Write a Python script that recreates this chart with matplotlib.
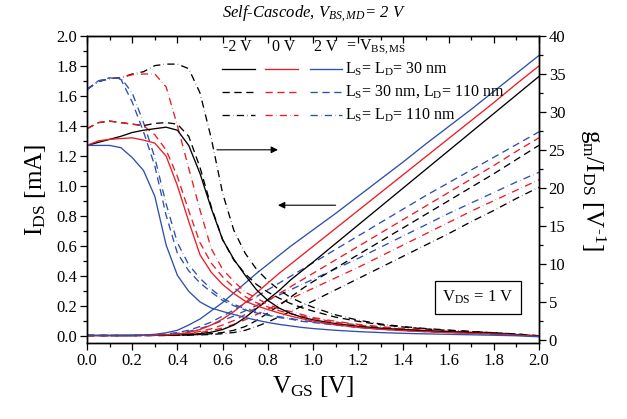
import matplotlib
matplotlib.use("Agg")
import matplotlib.pyplot as plt
from matplotlib.ticker import MultipleLocator, FormatStrFormatter

plt.rcParams['font.family'] = 'Liberation Serif'
plt.rcParams['mathtext.fontset'] = 'custom'
plt.rcParams['mathtext.rm'] = 'Liberation Serif'
plt.rcParams['mathtext.it'] = 'Liberation Serif:italic'
plt.rcParams['mathtext.bf'] = 'Liberation Serif:bold'

# gate voltage sweep [V]
vgs = [0.0, 0.05, 0.1, 0.15, 0.2, 0.25, 0.3, 0.35, 0.4, 0.45, 0.5, 0.55, 0.6, 0.65, 0.7,
       0.75, 0.8, 0.85, 0.9, 0.95, 1.0, 1.1, 1.2, 1.3, 1.4, 1.5, 1.6, 1.7, 1.8, 1.9, 2.0]

# drain current [mA], LS = LD = 30 nm
id_short_m2 = [0, 0, 0, 0, 0, 0.001, 0.001, 0.002, 0.003, 0.006, 0.012, 0.022, 0.04, 0.07, 0.12,
               0.18, 0.24, 0.30, 0.37, 0.43, 0.49, 0.614, 0.738, 0.862, 0.986, 1.11, 1.234, 1.358, 1.482, 1.606, 1.73]
id_short_0 = [0, 0, 0, 0, 0, 0.001, 0.002, 0.005, 0.01, 0.02, 0.04, 0.07, 0.11, 0.16, 0.22,
              0.285, 0.35, 0.415, 0.475, 0.535, 0.595, 0.715, 0.835, 0.955, 1.075, 1.195, 1.315, 1.435, 1.555, 1.68, 1.80]
id_short_p2 = [0, 0, 0, 0, 0.001, 0.003, 0.008, 0.018, 0.035, 0.07, 0.11, 0.165, 0.22, 0.285, 0.35,
               0.415, 0.475, 0.535, 0.595, 0.65, 0.705, 0.815, 0.93, 1.045, 1.16, 1.28, 1.395, 1.51, 1.63, 1.75, 1.87]

# drain current [mA], LS = 30 nm, LD = 110 nm
id_mixed_m2 = [0, 0, 0, 0, 0, 0, 0, 0.001, 0.002, 0.004, 0.007, 0.012, 0.02, 0.035, 0.06,
               0.10, 0.15, 0.20, 0.255, 0.31, 0.36, 0.45, 0.54, 0.63, 0.72, 0.81, 0.90, 0.99, 1.08, 1.175, 1.27]
id_mixed_0 = [0, 0, 0, 0, 0, 0, 0.001, 0.003, 0.007, 0.014, 0.027, 0.045, 0.07, 0.10, 0.14,
              0.185, 0.23, 0.28, 0.325, 0.37, 0.415, 0.505, 0.595, 0.685, 0.775, 0.865, 0.955, 1.045, 1.135, 1.23, 1.32]
id_mixed_p2 = [0, 0, 0, 0, 0, 0.001, 0.004, 0.01, 0.02, 0.035, 0.06, 0.09, 0.13, 0.17, 0.215,
               0.26, 0.305, 0.35, 0.395, 0.44, 0.485, 0.575, 0.665, 0.755, 0.845, 0.935, 1.02, 1.105, 1.19, 1.275, 1.36]

# drain current [mA], LS = LD = 110 nm
id_long_m2 = [0, 0, 0, 0, 0, 0, 0, 0, 0.001, 0.002, 0.004, 0.007, 0.012, 0.02, 0.035,
              0.06, 0.09, 0.125, 0.16, 0.195, 0.23, 0.305, 0.38, 0.455, 0.53, 0.605, 0.68, 0.76, 0.835, 0.915, 0.99]
id_long_0 = [0, 0, 0, 0, 0, 0, 0.001, 0.003, 0.006, 0.011, 0.02, 0.033, 0.05, 0.075, 0.105,
             0.14, 0.175, 0.21, 0.245, 0.28, 0.315, 0.385, 0.455, 0.53, 0.605, 0.68, 0.755, 0.83, 0.90, 0.97, 1.04]
id_long_p2 = [0, 0, 0, 0, 0, 0.001, 0.003, 0.007, 0.014, 0.028, 0.047, 0.07, 0.10, 0.13, 0.165,
              0.20, 0.235, 0.27, 0.305, 0.34, 0.375, 0.445, 0.515, 0.59, 0.665, 0.74, 0.815, 0.885, 0.955, 1.025, 1.09]

# gm/IDS [1/V], LS = LD = 30 nm
gm_short_m2 = [25.6, 26.0, 26.4, 26.8, 27.3, 27.6, 27.8, 28.0, 27.6, 25.6, 21.9, 17.3, 13.2, 10.6, 8.5,
               6.6, 5.2, 4.2, 3.5, 3.0, 2.65, 2.15, 1.8, 1.55, 1.35, 1.2, 1.08, 0.97, 0.85, 0.7, 0.5]
gm_short_0 = [25.6, 26.2, 26.4, 26.5, 26.6, 26.3, 25.9, 24.2, 20.3, 15.6, 11.2, 8.9, 7.3, 6.1, 5.1,
              4.5, 4.0, 3.55, 3.15, 2.8, 2.5, 2.0, 1.65, 1.4, 1.22, 1.08, 0.97, 0.88, 0.78, 0.65, 0.47]
gm_short_p2 = [25.6, 25.6, 25.6, 25.3, 24.0, 22.3, 18.9, 12.5, 8.5, 6.4, 5.0, 4.2, 3.75, 3.35, 2.95,
               2.6, 2.3, 2.05, 1.85, 1.65, 1.5, 1.27, 1.1, 0.97, 0.87, 0.8, 0.74, 0.68, 0.62, 0.55, 0.42]

# gm/IDS [1/V], LS = 30 nm, LD = 110 nm
gm_mixed_m2 = [27.8, 28.6, 28.8, 28.6, 28.4, 28.2, 28.5, 28.6, 28.4, 26.8, 22.7, 17.5, 13.2, 10.5, 8.7,
               7.3, 6.3, 5.5, 4.8, 4.25, 3.8, 3.0, 2.45, 2.0, 1.7, 1.45, 1.25, 1.1, 0.95, 0.78, 0.55]
gm_mixed_0 = [27.8, 28.6, 28.8, 28.6, 28.4, 28.2, 27.0, 25.0, 21.5, 17.0, 12.8, 10.1, 8.3, 6.9, 5.7,
              4.9, 4.35, 3.85, 3.45, 3.15, 2.85, 2.35, 1.95, 1.65, 1.42, 1.25, 1.1, 0.97, 0.85, 0.7, 0.5]
gm_mixed_p2 = [32.9, 34.1, 34.5, 34.3, 31.3, 27.4, 22.9, 16.4, 11.4, 9.1, 7.5, 6.3, 5.2, 4.5, 3.95,
               3.55, 3.25, 2.95, 2.75, 2.45, 2.3, 1.95, 1.65, 1.42, 1.25, 1.1, 0.98, 0.88, 0.78, 0.65, 0.45]

# gm/IDS [1/V], LS = LD = 110 nm
gm_long_m2 = [33.0, 34.0, 34.4, 34.5, 35.0, 35.3, 36.1, 36.3, 36.3, 35.7, 32.5, 26.5, 19.3, 14.4, 11.4,
              9.3, 7.8, 6.6, 5.6, 4.9, 4.3, 3.3, 2.6, 2.1, 1.75, 1.5, 1.3, 1.12, 0.95, 0.78, 0.55]
gm_long_0 = [33.0, 34.0, 34.4, 34.5, 34.9, 35.0, 35.0, 33.3, 28.2, 22.6, 17.1, 12.0, 9.3, 7.7, 6.3,
             5.5, 4.7, 4.1, 3.75, 3.35, 2.95, 2.45, 2.05, 1.75, 1.5, 1.3, 1.15, 1.0, 0.87, 0.72, 0.52]
gm_long_p2 = [33.0, 34.0, 34.4, 34.5, 32.5, 28.6, 24.0, 17.9, 12.8, 9.9, 8.1, 6.7, 5.5, 4.7, 4.1,
              3.75, 3.35, 3.05, 2.85, 2.55, 2.4, 2.0, 1.7, 1.47, 1.3, 1.15, 1.02, 0.9, 0.8, 0.67, 0.47]

colors = {'m2': '#000000', '0': '#ec1c24', 'p2': '#2e4fae'}
styles = {'short': dict(linestyle='-'),
          'mixed': dict(dashes=(5.5, 3.5)),
          'long': dict(dashes=(5.5, 2.5, 0.3, 2.5))}

id_sets = {'long': [id_long_m2, id_long_0, id_long_p2],
           'mixed': [id_mixed_m2, id_mixed_0, id_mixed_p2],
           'short': [id_short_m2, id_short_0, id_short_p2]}
gm_sets = {'long': [gm_long_m2, gm_long_0, gm_long_p2],
           'mixed': [gm_mixed_m2, gm_mixed_0, gm_mixed_p2],
           'short': [gm_short_m2, gm_short_0, gm_short_p2]}

fig = plt.figure(figsize=(6.27, 4.19), dpi=100)
ax = fig.add_axes([0.1388, 0.1814, 0.7208, 0.7327])
ax2 = ax.twinx()

lw = 0.95
for geo in ['long', 'mixed', 'short']:
    for key, ys in zip(['m2', '0', 'p2'], id_sets[geo]):
        ax.plot(vgs, ys, color=colors[key], lw=lw, **styles[geo])
    for key, ys in zip(['m2', '0', 'p2'], gm_sets[geo]):
        ax2.plot(vgs, ys, color=colors[key], lw=lw, **styles[geo])

ax.set_xlim(0, 2.0)
ax.set_ylim(-0.05, 2.0)
ax2.set_ylim(-0.4, 40)

ax.xaxis.set_major_locator(MultipleLocator(0.2))
ax.xaxis.set_minor_locator(MultipleLocator(0.1))
ax.yaxis.set_major_locator(MultipleLocator(0.2))
ax.yaxis.set_minor_locator(MultipleLocator(0.1))
ax2.yaxis.set_major_locator(MultipleLocator(5))
ax2.yaxis.set_minor_locator(MultipleLocator(2.5))
ax.xaxis.set_major_formatter(FormatStrFormatter('%.1f'))
ax.yaxis.set_major_formatter(FormatStrFormatter('%.1f'))

ax.tick_params(which='major', direction='out', length=5, width=0.9, labelsize=12, pad=2)
ax.tick_params(which='minor', direction='out', length=3, width=0.9)
ax2.tick_params(which='major', direction='out', length=5, width=0.9, labelsize=12, pad=2)
ax2.tick_params(which='minor', direction='out', length=3, width=0.9)

top = ax.secondary_xaxis('top')
top.xaxis.set_major_locator(MultipleLocator(0.2))
top.xaxis.set_minor_locator(MultipleLocator(0.1))
top.tick_params(which='major', direction='in', length=5, width=0.9, labeltop=False)
top.tick_params(which='minor', direction='in', length=3, width=0.9)

for a in (ax, ax2):
    for s in a.spines.values():
        s.set_linewidth(1.0)

ax.set_xlabel(r'V$_{\rm GS}$ [V]', fontsize=18, labelpad=4)
ax.set_ylabel(r'I$_{\rm DS}$ [mA]', fontsize=18, labelpad=6)
ax2.set_ylabel('g$_{\\rm m}$/I$_{\\rm DS}$ [V$^{\\rm \u2010 1}$]', fontsize=18,
               rotation=270, labelpad=30)

fig.text(0.5, 0.968, r'Self-Cascode, $V_{BS,MD}$= 2 V', ha='center', va='center',
         fontsize=12, style='italic')

# legend: one column per body bias, one row per geometry
tr = ax.transAxes
hdr_y = 0.964
for x, txt in [(0.332, '-2 V'), (0.436, '0 V'), (0.529, '2 V')]:
    ax.text(x, hdr_y, txt, transform=tr, ha='center', va='center', fontsize=11.5)
ax.text(0.573, hdr_y, r'= V$_{\rm BS,MS}$', transform=tr, ha='left', va='center', fontsize=11.5)

rows = [('short', 0.8925, r'L$_{\rm S}$= L$_{\rm D}$= 30 nm'),
        ('mixed', 0.8176, r'L$_{\rm S}$= 30 nm, L$_{\rm D}$= 110 nm'),
        ('long', 0.7427, r'L$_{\rm S}$= L$_{\rm D}$= 110 nm')]
spans = [(0.2987, 0.3717), (0.3938, 0.4668), (0.4934, 0.5642)]
for geo, y, label in rows:
    for key, (x0, x1) in zip(['m2', '0', 'p2'], spans):
        ax.plot([x0, x1], [y, y], transform=tr, color=colors[key], lw=lw, **styles[geo])
    ax.text(0.571, y, label, transform=tr, ha='left', va='center', fontsize=11.5)

# arrows pointing to the matching axis
arrow = dict(arrowstyle='-|>', color='k', lw=0.8, mutation_scale=10, shrinkA=0, shrinkB=0)
ax.annotate('', xy=(0.845, 1.24), xytext=(0.575, 1.24), arrowprops=arrow)
ax.annotate('', xy=(0.845, 0.87), xytext=(1.10, 0.87), arrowprops=arrow)

ax.text(1.73, 0.255, r'V$_{\rm DS}$ = 1 V', fontsize=12, ha='center', va='center',
        bbox=dict(boxstyle='square,pad=0.45', fc='white', ec='black', lw=0.9))

fig.savefig('out.png', dpi=100)
